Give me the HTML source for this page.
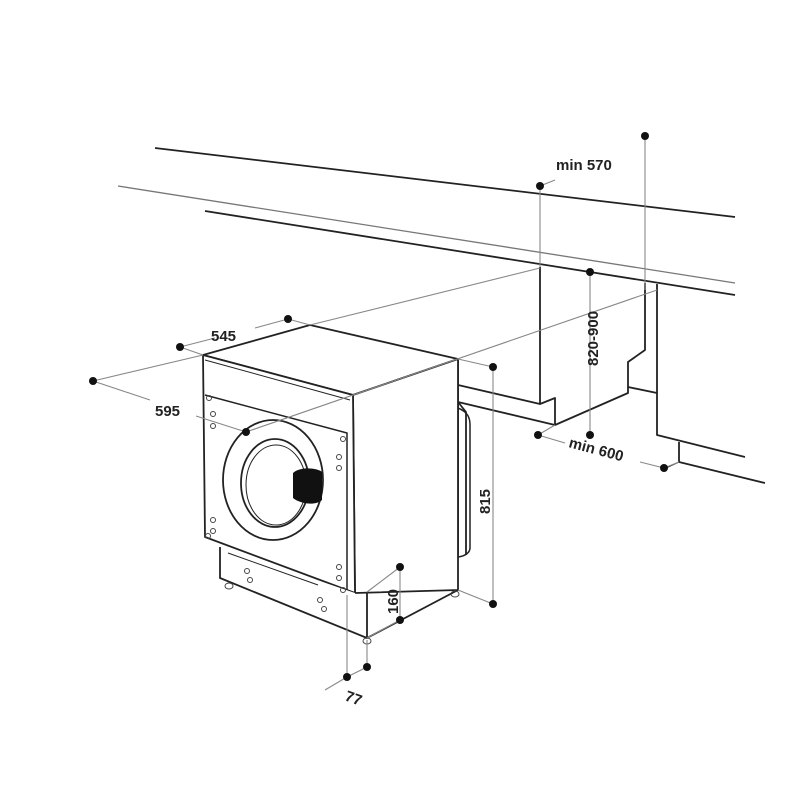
<!DOCTYPE html>
<html><head><style>body{margin:0;background:#fff}svg{display:block}</style></head><body>
<svg width="800" height="800" viewBox="0 0 800 800" xmlns="http://www.w3.org/2000/svg" font-family="Liberation Sans, Arial, sans-serif">
<rect width="800" height="800" fill="#fff"/>
<g fill="none" stroke="#222" stroke-width="1.8" stroke-linejoin="round">
<line x1="155" y1="148" x2="735" y2="217"/>
<line x1="118" y1="186" x2="735" y2="283" stroke="#777" stroke-width="1.3"/>
<line x1="205" y1="211" x2="735" y2="295"/>
<polyline points="540,267 540,404 555,398 555,425 628,393 628,362 645,350 645,283"/>
<line x1="628" y1="387" x2="657" y2="393"/>
<polyline points="657,284 657,435 745,457"/>
<polyline points="679,442 679,462 765,483"/>
<line x1="679" y1="462" x2="666" y2="468" stroke-width="1"/>
<polyline points="458,358 458,555"/>
<line x1="458" y1="385" x2="540" y2="404"/>
<line x1="458" y1="402" x2="555" y2="425"/>
<path d="M458,402 L466,412 L466,555"/>
<polygon points="203,355 310,325 458,359 353,395" fill="#fff"/>
<polygon points="353,395 458,359 458,590 355,593" fill="#fff"/>
<path d="M458,408 C468,412 470,418 470,425 L470,548 C470,552 466,556 458,557" stroke-width="1.5"/>
<polygon points="203,355 353,395 355,593 205,537" fill="#fff"/>
<line x1="205" y1="360" x2="350" y2="400" stroke-width="1"/>
<polyline points="205,395 347,433 347,592" stroke-width="1.5"/>
<polygon points="220,547 355,593 367,638 222,578" fill="#fff" stroke="none"/>
<polyline points="220,547 220,578 367,638 367,592"/>
<line x1="367" y1="638" x2="458" y2="590"/>
<line x1="228" y1="553" x2="318" y2="585" stroke-width="1"/>
<ellipse cx="273" cy="480" rx="50" ry="60"/>
<ellipse cx="275" cy="483" rx="34" ry="44"/>
<ellipse cx="276" cy="485" rx="30" ry="40" stroke-width="1"/>
</g>
<path d="M293,473 C300,466 318,468 322,472 L322,500 C316,506 300,504 293,498 Z" fill="#111"/>
<g fill="none" stroke="#444" stroke-width="1">
<circle cx="209" cy="398" r="2.5"/><circle cx="213" cy="414" r="2.5"/><circle cx="213" cy="426" r="2.5"/>
<circle cx="343" cy="439" r="2.5"/><circle cx="339" cy="457" r="2.5"/><circle cx="339" cy="468" r="2.5"/>
<circle cx="213" cy="520" r="2.5"/><circle cx="213" cy="531" r="2.5"/><circle cx="208" cy="536" r="2.5"/>
<circle cx="339" cy="567" r="2.5"/><circle cx="339" cy="578" r="2.5"/><circle cx="343" cy="590" r="2.5"/>
<circle cx="247" cy="571" r="2.5"/><circle cx="250" cy="580" r="2.5"/><circle cx="320" cy="600" r="2.5"/><circle cx="324" cy="609" r="2.5"/>
<ellipse cx="229" cy="586" rx="4" ry="3"/><ellipse cx="367" cy="641" rx="4" ry="3"/><ellipse cx="455" cy="594" rx="4" ry="3"/>
</g>
<g stroke="#888" stroke-width="1.1" fill="none">
<line x1="180" y1="347" x2="215" y2="338"/><line x1="255" y1="328" x2="288" y2="319"/>
<line x1="288" y1="319" x2="310" y2="325"/><line x1="180" y1="347" x2="203" y2="355"/>
<line x1="93" y1="381" x2="150" y2="400"/><line x1="196" y1="416" x2="246" y2="432"/>
<line x1="93" y1="381" x2="203" y2="355"/>
<line x1="246" y1="432" x2="657" y2="290"/>
<line x1="310" y1="325" x2="540" y2="268"/>
<line x1="645" y1="136" x2="645" y2="290"/>
<line x1="540" y1="186" x2="540" y2="267"/>
<line x1="540" y1="186" x2="555" y2="180"/>
<line x1="590" y1="272" x2="590" y2="435"/>
<line x1="538" y1="435" x2="565" y2="443"/><line x1="640" y1="462" x2="664" y2="468"/>
<line x1="538" y1="435" x2="555" y2="425"/><line x1="664" y1="468" x2="679" y2="462"/>
<line x1="493" y1="367" x2="493" y2="604"/>
<line x1="458" y1="359" x2="493" y2="367"/><line x1="458" y1="590" x2="493" y2="604"/>
<line x1="400" y1="567" x2="400" y2="620"/>
<line x1="367" y1="592" x2="400" y2="567"/><line x1="367" y1="638" x2="400" y2="620"/>
<line x1="347" y1="595" x2="347" y2="677"/><line x1="367" y1="640" x2="367" y2="667"/>
<line x1="325" y1="690" x2="347" y2="677"/><line x1="347" y1="677" x2="367" y2="667"/>
</g>
<g fill="#111">
<circle cx="180" cy="347" r="4"/><circle cx="288" cy="319" r="4"/>
<circle cx="93" cy="381" r="4"/><circle cx="246" cy="432" r="4"/>
<circle cx="645" cy="136" r="4"/><circle cx="540" cy="186" r="4"/>
<circle cx="590" cy="272" r="4"/><circle cx="590" cy="435" r="4"/>
<circle cx="538" cy="435" r="4"/><circle cx="664" cy="468" r="4"/>
<circle cx="493" cy="367" r="4"/><circle cx="493" cy="604" r="4"/>
<circle cx="400" cy="567" r="4"/><circle cx="400" cy="620" r="4"/>
<circle cx="347" cy="677" r="4"/><circle cx="367" cy="667" r="4"/>
</g>
<g fill="#222" font-size="15" font-weight="bold">
<text x="211" y="341">545</text>
<text x="155" y="416">595</text>
<text x="556" y="170">min 570</text>
<text transform="translate(598,366) rotate(-90)">820-900</text>
<text transform="translate(568,447) rotate(15)">min 600</text>
<text transform="translate(490,514) rotate(-90)">815</text>
<text transform="translate(398,614) rotate(-90)">160</text>
<text transform="translate(344,700) rotate(20)">77</text>
</g>
</svg>
</body></html>
